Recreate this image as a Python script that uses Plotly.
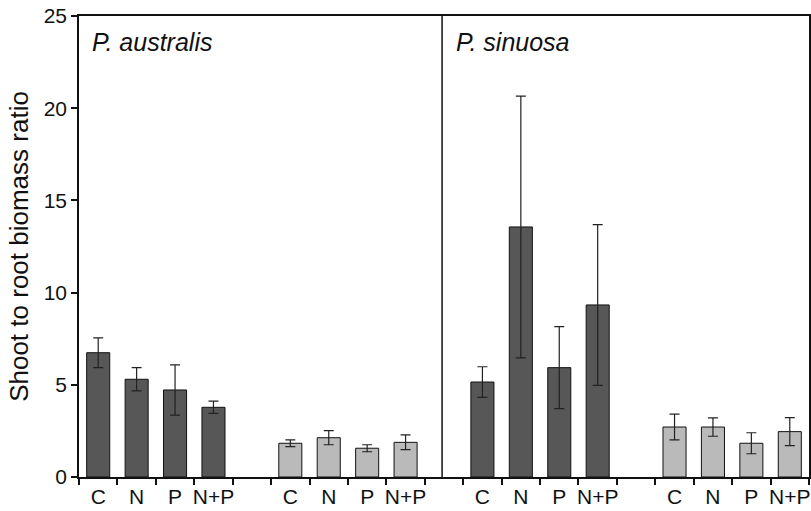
import plotly.graph_objects as go

treatments = ["C", "N", "P", "N+P"]

# P. australis panel
aus_dark = [6.74, 5.30, 4.72, 3.78]
aus_dark_err = [0.81, 0.63, 1.36, 0.33]
aus_light = [1.83, 2.13, 1.56, 1.88]
aus_light_err = [0.18, 0.38, 0.19, 0.40]

# P. sinuosa panel
sin_dark = [5.15, 13.56, 5.93, 9.33]
sin_dark_err = [0.83, 7.10, 2.22, 4.36]
sin_light = [2.71, 2.71, 1.83, 2.46]
sin_light_err = [0.70, 0.50, 0.57, 0.76]

y_ticks = [0, 5, 10, 15, 20, 25]

# slot positions (bar centres) on a continuous axis
pos_aus_dark = [0.5, 1.5, 2.5, 3.5]
pos_aus_light = [5.5, 6.5, 7.5, 8.5]
pos_sin_dark = [10.5, 11.5, 12.5, 13.5]
pos_sin_light = [15.5, 16.5, 17.5, 18.5]
boundaries = list(range(20))
divider = 9.45

DARK = "#575757"
LIGHT = "#bababa"

fig = go.Figure()

def add_bars(x, y, err, color):
    fig.add_trace(go.Bar(
        x=x, y=y, width=0.6,
        marker=dict(color=color, line=dict(color="#111111", width=1)),
        error_y=dict(type="data", array=err, visible=True, color="#222222",
                     thickness=1.2, width=5),
        showlegend=False,
    ))

add_bars(pos_aus_dark, aus_dark, aus_dark_err, DARK)
add_bars(pos_aus_light, aus_light, aus_light_err, LIGHT)
add_bars(pos_sin_dark, sin_dark, sin_dark_err, DARK)
add_bars(pos_sin_light, sin_light, sin_light_err, LIGHT)

all_pos = pos_aus_dark + pos_aus_light + pos_sin_dark + pos_sin_light
all_text = treatments * 4

font = "Liberation Sans, Arial, Helvetica, sans-serif"

fig.update_layout(
    width=811, height=511,
    margin=dict(l=79, r=2, t=16, b=34),
    paper_bgcolor="white", plot_bgcolor="white",
    barmode="overlay",
    font=dict(family=font, size=21, color="#111111"),
    xaxis=dict(
        range=[0, 19],
        tickmode="array", tickvals=all_pos, ticktext=all_text,
        ticks="", showgrid=False, zeroline=False, automargin=False,
        showline=True, linecolor="#111111", linewidth=1.5, mirror=True,
        tickfont=dict(size=21),
        minor=dict(tickmode="array", tickvals=boundaries, ticks="outside",
                   ticklen=6, tickwidth=1.5, tickcolor="#111111", showgrid=False),
    ),
    yaxis=dict(
        range=[0, 25],
        tickmode="array", tickvals=y_ticks,
        ticks="outside", ticklen=6, tickwidth=1.5, tickcolor="#111111",
        showgrid=False, zeroline=False, automargin=False,
        showline=True, linecolor="#111111", linewidth=1.5, mirror=True,
        tickfont=dict(size=21),
        title=dict(text="Shoot to root biomass ratio", font=dict(size=26), standoff=8),
    ),
    shapes=[dict(type="line", xref="x", yref="paper", x0=divider, x1=divider,
                 y0=0, y1=1, line=dict(color="#111111", width=1.5))],
    annotations=[
        dict(text="<i>P. australis</i>", xref="paper", yref="paper", x=0.015, y=0.978,
             xanchor="left", yanchor="top", showarrow=False, font=dict(size=25)),
        dict(text="<i>P. sinuosa</i>", xref="x", yref="paper", x=divider + 0.3, y=0.978,
             xanchor="left", yanchor="top", showarrow=False, font=dict(size=25)),
    ],
)

fig.write_html("out.html", config={"displayModeBar": False},
               post_script="document.body.style.margin='0px';")
